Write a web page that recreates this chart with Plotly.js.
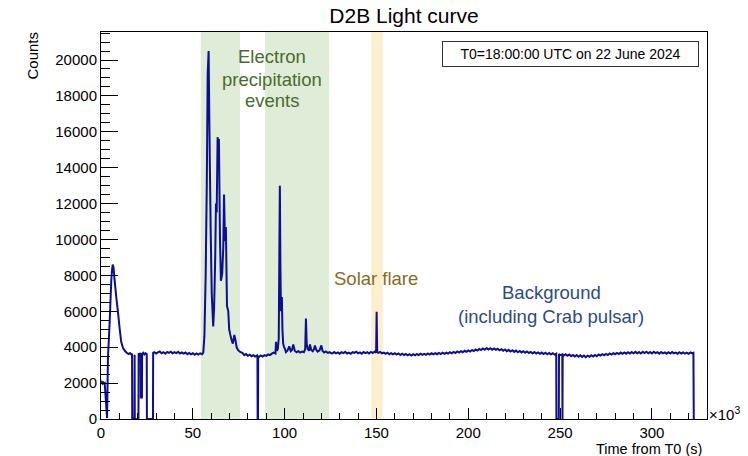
<!DOCTYPE html>
<html>
<head>
<meta charset="utf-8">
<script src="https://cdn.plot.ly/plotly-3.0.1.min.js"></script>
<style>html,body{margin:0;padding:0;background:#fff;}#chart{width:748px;height:456px;}</style>
</head>
<body>
<div id="chart"></div>
<script>
// Time from T0 in units of 10^3 s
const timeKs = [
  0, 0.4, 0.8, 1.2, 1.6, 2.0, 3.3, 3.8, 4.7, 5.6, 6.0, 6.4, 6.8, 7.4, 8.4, 9.3, 10.2, 11.0, 12.0, 13.0, 14.0, 15.0, 15.8, 16.5, 16.9,
  17.0, 18.2, 18.3, 18.4, 20.4, 20.5, 21.0, 21.6, 21.7, 22.3, 22.4, 23.0, 23.6, 24.2, 24.9, 25.0, 28.3, 28.4,
  29, 30, 31, 32, 33, 34, 35, 36, 37, 38, 39, 40, 41, 42, 43, 44, 45, 46, 47, 48, 49, 50, 51, 52, 53, 54, 55,
  55.7, 56.3, 57.0, 57.6, 58.1, 58.6, 59.0, 59.7, 60.3, 61.1, 61.6, 62.2, 62.6, 63.0, 63.5, 63.9, 64.2, 64.8, 65.3, 66.0,
  66.6, 67.0, 67.5, 68.0, 68.6, 69.3, 69.8, 70.4, 71.1, 71.8, 72.6, 73.2, 73.9, 74.6, 75.3, 76.0,
  77, 78, 79, 80, 81, 82, 83, 84, 85, 85.2, 85.3, 85.5, 85.6, 86, 87, 88, 89, 90, 91, 92, 93, 94, 95,
  95.3, 95.8, 96.3, 96.8, 97.1, 97.4, 97.7, 98.0, 98.5, 98.8, 99.2, 99.7, 100.2, 100.7,
  101.5, 102.5, 103.3, 104.0, 104.7, 105.5, 106.5, 107.5, 108.5, 109.5, 110.5,
  111.2, 111.6, 112.0, 112.6, 113.3, 113.8, 114.5, 115.3, 116.0, 116.5, 117.2, 118.0, 119.0, 120.0, 120.6, 121.5, 122.5, 123.5, 124.5, 125.5,
  126, 127, 128, 129, 130, 131, 132, 133, 134, 135, 136, 137, 138, 139, 140, 141, 142, 143, 144, 145, 146, 147, 148, 149,
  149.8, 150.1, 150.4,
  151, 152, 153, 154, 155, 156, 157, 158, 159, 160,
  161, 162, 163, 164, 165, 166, 167, 168, 169, 170,
  171, 172, 173, 174, 175, 176, 177, 178, 179, 180,
  181, 182, 183, 184, 185, 186, 187, 188, 189, 190,
  191, 192, 193, 194, 195, 196, 197, 198, 199, 200,
  201, 202, 203, 204, 205, 206, 207, 208, 209, 210,
  211, 212, 213, 214, 215, 216, 217, 218, 219, 220,
  221, 222, 223, 224, 225, 226, 227, 228, 229, 230,
  231, 232, 233, 234, 235, 236, 237, 238, 239, 240,
  241, 242, 243, 244, 245, 246, 247,
  247.9, 248.0, 249.3, 249.4, 250, 251.2, 251.3, 251.4,
  252, 253, 254, 255, 256, 257, 258, 259, 260, 261,
  262, 263, 264, 265, 266, 267, 268, 269, 270, 271,
  272, 273, 274, 275, 276, 277, 278, 279, 280, 281,
  282, 283, 284, 285, 286, 287, 288, 289, 290, 291,
  292, 293, 294, 295, 296, 297, 298, 299, 300, 301,
  302, 303, 304, 305, 306, 307, 308, 309, 310, 311,
  312, 313, 314, 315, 316, 317, 318, 319, 320, 321,
  322, 322.6, 322.8, 323
];
const counts = [
  2000, 2060, 1980, 2040, 1990, 2010, 60, 3450, 5350, 7700, 8300, 8600, 8450, 7750, 6700, 5900, 5000, 4300, 3950, 3800, 3690, 3620, 3670, 3590, 3640,
  0, 0, 3580, 0, 0, 3660, 3600, 3670, 1200, 1200, 3620, 3690, 3600, 3660, 3620, 0, 0, 3690,
  3720, 3650, 3710, 3760, 3660, 3720, 3640, 3730, 3680, 3750, 3660, 3720, 3670, 3740, 3650, 3710, 3640, 3700, 3610, 3680, 3600, 3660, 3580, 3650, 3590, 3660, 3610,
  3700, 4600, 8000, 13000, 19200, 20500, 16500, 10700, 7000, 5150, 6200, 9000, 12000, 11500, 15700, 15200, 15600, 10000, 7700, 8100,
  9600, 12500, 9900, 10700, 6300, 6000, 5000, 4700, 4400, 4200, 4680, 4400, 3980, 3850, 3780, 3720,
  3680, 3560, 3620, 3520, 3580, 3500, 3560, 3480, 3540, 3420, 0, 0, 3500, 3460, 3540, 3480, 3560, 3520, 3600, 3560, 3640, 3700, 3650,
  4300, 3800, 3900, 4500, 9000, 13000, 8500, 6000, 6800, 5000, 4200, 4000, 3900, 3720,
  3800, 4050, 3780, 3850, 4150, 3800, 3720, 3780, 3700, 3760, 3720,
  3900, 5600, 4200, 3900, 3800, 4150, 3850, 3780, 3900, 4100, 3850, 3750, 3820, 4100, 3800, 3700, 3760, 3680, 3720, 3660,
  3650, 3730, 3660, 3710, 3640, 3720, 3670, 3740, 3650, 3700, 3630, 3720, 3680, 3750, 3660, 3710, 3640, 3730, 3670, 3720, 3650, 3740, 3680, 3760,
  3690, 5980, 3720,
  3680, 3740, 3660, 3700, 3630, 3690, 3610, 3670, 3600, 3660,
  3590, 3650, 3570, 3640, 3560, 3620, 3550, 3610, 3540, 3610,
  3550, 3620, 3560, 3640, 3570, 3630, 3580, 3650, 3590, 3660,
  3600, 3670, 3610, 3680, 3620, 3690, 3630, 3700, 3640, 3720,
  3660, 3740, 3680, 3760, 3700, 3780, 3720, 3800, 3740, 3820,
  3760, 3840, 3790, 3870, 3810, 3900, 3840, 3930, 3860, 3950,
  3870, 3940, 3860, 3930, 3850, 3910, 3830, 3890, 3800, 3870,
  3780, 3850, 3760, 3830, 3740, 3810, 3720, 3790, 3710, 3780,
  3690, 3760, 3680, 3740, 3660, 3730, 3650, 3710, 3630, 3700,
  3620, 3690, 3610, 3680, 3600, 3660, 3590,
  3640, 0, 0, 3620, 3560, 3600, 0, 3580,
  3540, 3610, 3520, 3590, 3500, 3570, 3480, 3560, 3470, 3550,
  3460, 3540, 3440, 3530, 3470, 3550, 3480, 3570, 3500, 3590,
  3530, 3610, 3550, 3630, 3570, 3650, 3590, 3670, 3610, 3680,
  3620, 3700, 3630, 3710, 3640, 3720, 3650, 3730, 3660, 3740,
  3660, 3730, 3650, 3740, 3670, 3750, 3660, 3730, 3650, 3740,
  3670, 3720, 3640, 3730, 3660, 3710, 3640, 3720, 3650, 3730,
  3660, 3700, 3630, 3720, 3650, 3710, 3640, 3700, 3630, 3710,
  3650, 3680, 0, 0
];
// Highlighted time intervals (10^3 s)
const bandStart = [54.3, 89.3, 147.2];
const bandEnd   = [75.7, 124.3, 153.4];
const bandColor = ['rgb(223,236,215)', 'rgb(223,236,215)', 'rgb(253,238,204)'];
const xTickVals = [0, 50, 100, 150, 200, 250, 300];
const yTickVals = [0, 2000, 4000, 6000, 8000, 10000, 12000, 14000, 16000, 18000, 20000];

const FONT = '"Liberation Sans", Arial, Helvetica, sans-serif';

const shapes = bandStart.map((s, i) => ({
  type: 'rect', xref: 'x', yref: 'paper', x0: s, x1: bandEnd[i], y0: 0, y1: 1,
  fillcolor: bandColor[i], line: {width: 0}, layer: 'below'
}));

const trace = {
  x: timeKs, y: counts, type: 'scatter', mode: 'lines',
  line: {color: '#0d0d96', width: 2, simplify: false},
  hoverinfo: 'skip'
};

const L = 101, T = 32, W = 606, H = 387;
const px = xp => (xp - L) / W;
const py = yp => (T + H - yp) / H;

const annotations = [
  {text: 'Counts', xref: 'paper', yref: 'paper', x: px(31.5), y: py(56), xanchor: 'center', yanchor: 'middle', textangle: -90, showarrow: false, font: {family: FONT, size: 15, color: '#000'}},
  {text: 'Time from T0 (s)', xref: 'paper', yref: 'paper', x: px(704), y: py(449), xanchor: 'right', yanchor: 'middle', showarrow: false, font: {family: FONT, size: 14.5, color: '#000'}},
  {text: '×10<sup>3</sup>', xref: 'paper', yref: 'paper', x: px(707), y: py(413), xanchor: 'left', yanchor: 'middle', showarrow: false, font: {family: FONT, size: 15, color: '#000'}},
  {text: 'T0=18:00:00 UTC on 22 June 2024', xref: 'paper', yref: 'paper', x: px(570.4), y: py(54), xanchor: 'center', yanchor: 'middle', showarrow: false,
   width: 253, height: 22, borderpad: 1, borderwidth: 1, bordercolor: '#333', bgcolor: '#fff', font: {family: FONT, size: 14, color: '#000'}},
  {text: 'Electron', xref: 'paper', yref: 'paper', x: px(272), y: py(57), xanchor: 'center', yanchor: 'middle', showarrow: false, font: {family: FONT, size: 18.5, color: '#4b6b2c'}},
  {text: 'precipitation', xref: 'paper', yref: 'paper', x: px(272), y: py(79), xanchor: 'center', yanchor: 'middle', showarrow: false, font: {family: FONT, size: 18.5, color: '#4b6b2c'}},
  {text: 'events', xref: 'paper', yref: 'paper', x: px(272), y: py(100.5), xanchor: 'center', yanchor: 'middle', showarrow: false, font: {family: FONT, size: 18.5, color: '#4b6b2c'}},
  {text: 'Solar flare', xref: 'paper', yref: 'paper', x: px(376), y: py(278), xanchor: 'center', yanchor: 'middle', showarrow: false, font: {family: FONT, size: 18.5, color: '#8a6a1e'}},
  {text: 'Background', xref: 'paper', yref: 'paper', x: px(551), y: py(292), xanchor: 'center', yanchor: 'middle', showarrow: false, font: {family: FONT, size: 18.5, color: '#2e4a84'}},
  {text: '(including Crab pulsar)', xref: 'paper', yref: 'paper', x: px(551), y: py(316.5), xanchor: 'center', yanchor: 'middle', showarrow: false, font: {family: FONT, size: 18.5, color: '#2e4a84'}}
];

const layout = {
  width: 748, height: 456,
  margin: {l: L, r: 748 - L - W, t: T, b: 456 - T - H, pad: 0},
  paper_bgcolor: '#fff', plot_bgcolor: '#fff',
  showlegend: false,
  font: {family: FONT, size: 15, color: '#000'},
  title: {text: 'D2B Light curve', x: 0.5, xref: 'paper', xanchor: 'center', y: 1 - 16 / 456, yref: 'container', yanchor: 'middle',
          font: {family: FONT, size: 21, color: '#000'}},
  xaxis: {
    range: [0, 330], tickvals: xTickVals, ticks: 'inside', ticklen: 11, tickwidth: 1, tickcolor: '#000',
    minor: {dtick: 10, ticks: 'inside', ticklen: 6, tickwidth: 1, tickcolor: '#000'},
    showline: true, linecolor: '#000', linewidth: 1, mirror: true, showgrid: false, zeroline: false,
    tickfont: {family: FONT, size: 15, color: '#000'}, fixedrange: true
  },
  yaxis: {
    range: [0, 21560], tickvals: yTickVals, tickformat: 'd', ticks: 'inside', ticklen: 17, tickwidth: 1, tickcolor: '#000',
    minor: {dtick: 500, ticks: 'inside', ticklen: 9, tickwidth: 1, tickcolor: '#000'},
    showline: true, linecolor: '#000', linewidth: 1, mirror: true, showgrid: false, zeroline: false,
    tickfont: {family: FONT, size: 15, color: '#000'}, fixedrange: true
  },
  shapes: shapes,
  annotations: annotations
};

Plotly.newPlot('chart', [trace], layout, {displayModeBar: false, staticPlot: true});
</script>
</body>
</html>
